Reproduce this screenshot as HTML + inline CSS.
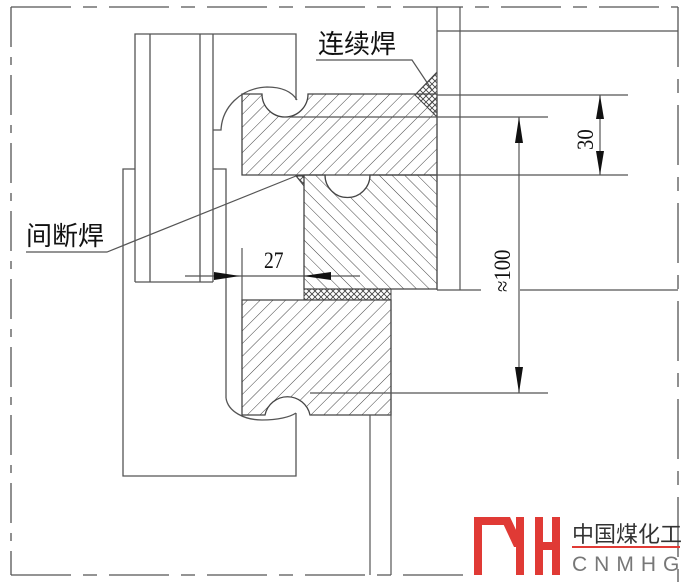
<!DOCTYPE html>
<html><head><meta charset="utf-8"><style>
html,body{margin:0;padding:0;background:#fff;}
svg{display:block;}
</style></head><body>
<svg width="684" height="582" viewBox="0 0 684 582" xmlns="http://www.w3.org/2000/svg">
<defs>
<pattern id="h1" patternUnits="userSpaceOnUse" width="9" height="9" patternTransform="rotate(45)">
<line x1="0" y1="0" x2="0" y2="9" stroke="#444" stroke-width="1"/></pattern>
<pattern id="h2" patternUnits="userSpaceOnUse" width="9" height="9" patternTransform="rotate(-45)">
<line x1="0" y1="0" x2="0" y2="9" stroke="#444" stroke-width="1"/></pattern>
<pattern id="hx" patternUnits="userSpaceOnUse" width="6" height="6">
<path d="M0 0L6 6M6 0L0 6" stroke="#444" stroke-width="0.9"/></pattern>
</defs>
<g fill="none" stroke="#555" stroke-width="1.3">
<line x1="11" y1="7" x2="678" y2="7" stroke-dasharray="60,12,14,12"/>
<line x1="11" y1="7" x2="11" y2="575" stroke-dasharray="40,10,8,10"/>
<line x1="11" y1="575" x2="470" y2="575" stroke-dasharray="60,12,14,12"/>
<line x1="678" y1="7" x2="678" y2="582" stroke-dasharray="60,12,14,12"/>
<path d="M135 282V34H296V100"/>
<line x1="150" y1="34" x2="150" y2="282"/>
<line x1="200" y1="34" x2="200" y2="282"/>
<line x1="213" y1="34" x2="213" y2="282"/>
<line x1="135" y1="282" x2="213" y2="282"/>
<path d="M135 169H123V476H296V413"/>
<path d="M213 169H226V398"/>
<path d="M213 130H221C222 108 240 88 267 87C282 87 292 92 297 100"/>
<path d="M226 398C228 412 245 420 262 420C278 420 290 417 296 413"/>
</g>
<path d="M242 94H262A23 23 0 0 0 308 94H437V175H242Z" fill="url(#h1)" stroke="#444" stroke-width="1.3"/>
<path d="M437 72L415 95L437 117Z" fill="url(#hx)" stroke="#444" stroke-width="1"/>
<path d="M304 175H325A22 22 0 0 0 370 175H437V289H304Z" fill="url(#h2)" stroke="#444" stroke-width="1.3"/>
<rect x="304" y="289" width="87" height="11" fill="url(#hx)" stroke="#444" stroke-width="1"/>
<path d="M296 176L304 176L304 186Z" fill="url(#hx)" stroke="#444" stroke-width="1"/>
<path d="M242 300H391V415H310A23 23 0 0 0 265 415H242Z" fill="url(#h1)" stroke="#444" stroke-width="1.3"/>
<g fill="none" stroke="#555" stroke-width="1.2">
<line x1="290" y1="117" x2="548" y2="117"/>
<line x1="437" y1="7" x2="437" y2="290"/>
<line x1="460" y1="7" x2="460" y2="290"/>
<line x1="437" y1="31" x2="678" y2="31"/>
<line x1="437" y1="95" x2="628" y2="95"/>
<line x1="437" y1="175" x2="628" y2="175"/>
<line x1="437" y1="290" x2="481" y2="290"/>
<line x1="520" y1="290" x2="678" y2="290"/>
<line x1="310" y1="393" x2="548" y2="393"/>
<line x1="370" y1="415" x2="370" y2="575"/>
<line x1="391" y1="300" x2="391" y2="575"/>
<line x1="600" y1="95" x2="600" y2="175"/>
<line x1="519" y1="117" x2="519" y2="393"/>
<line x1="185" y1="276" x2="360" y2="276"/>
<line x1="242" y1="248" x2="242" y2="300"/>
<path d="M316 60H412L432 90"/>
<path d="M26 252H107L296 176"/>
</g>
<g fill="#111">
<path d="M600 95l-4 24h8z"/><path d="M600 175l-4 -24h8z"/>
<path d="M519 117l-4 26h8z"/><path d="M519 393l-4 -26h8z"/>
<path d="M240 276l-26 -4v8z"/><path d="M303 276l28 -4v8z"/>
</g>
<g fill="#111" font-family="'Liberation Serif',serif">
<text x="0" y="0" font-size="23" transform="translate(264,268) scale(0.85,1)">27</text>
<text x="0" y="0" font-size="23" transform="translate(593,150) rotate(-90) scale(0.9,1)">30</text>
<text x="0" y="0" font-size="23" transform="translate(510,292) rotate(-90) scale(0.9,1)">≈100</text>
</g>
<text x="318" y="53" font-size="26" fill="#111" font-family="'Liberation Sans','Noto Sans CJK SC',sans-serif">连续焊</text>
<text x="26" y="245" font-size="26" fill="#111" font-family="'Liberation Sans','Noto Sans CJK SC',sans-serif">间断焊</text>
<g fill="#e03a35">
<rect x="474" y="517" width="8" height="58"/>
<rect x="474" y="517" width="36" height="8"/>
<path d="M500 517h10l14 30h-10z"/>
<rect x="516" y="517" width="8" height="58"/>
<rect x="535" y="517" width="8" height="58"/>
<rect x="552" y="517" width="8" height="58"/>
<rect x="535" y="542" width="25" height="8"/>
<rect x="572" y="546" width="108" height="2"/>
</g>
<text x="572" y="542" font-size="22" fill="#333" font-family="'Liberation Sans','Noto Sans CJK SC',sans-serif">中国煤化工</text>
<text x="572" y="571" font-size="21" fill="#777" letter-spacing="7" font-family="'Liberation Sans',sans-serif">CNMHG</text>
</svg>
</body></html>
